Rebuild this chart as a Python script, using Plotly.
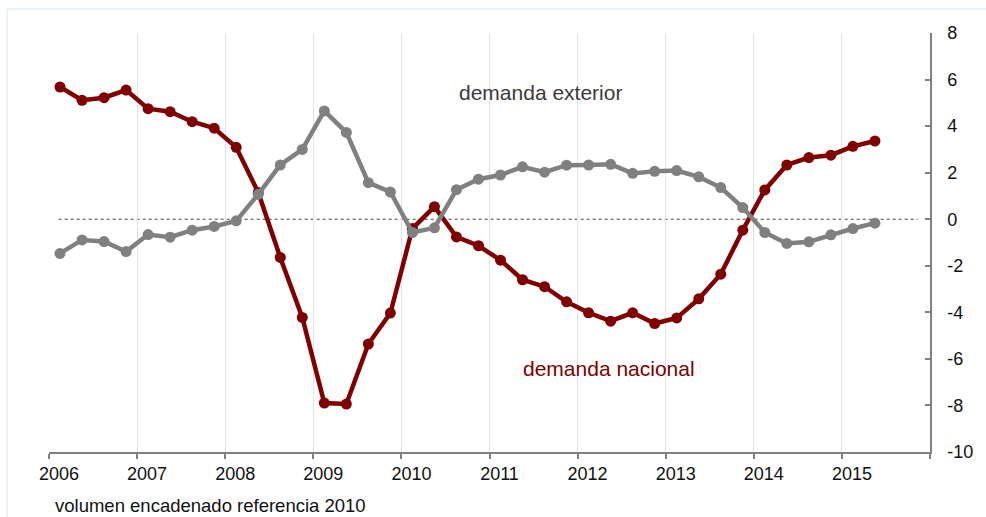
import plotly.graph_objects as go

# Quarters 2006T1 .. 2015T2
quarters = [f"{y}T{q}" for y in range(2006, 2016) for q in range(1, 5)][:38]

demanda_nacional = [5.68, 5.11, 5.22, 5.55, 4.75, 4.62, 4.19, 3.91,
                    3.09, 1.15, -1.64, -4.22, -7.90, -7.94, -5.36, -4.03,
                    -0.40, 0.54, -0.76, -1.14, -1.76, -2.60, -2.90, -3.55,
                    -4.02, -4.38, -4.02, -4.48, -4.24, -3.42, -2.36, -0.47,
                    1.26, 2.33, 2.65, 2.75, 3.13, 3.36]

demanda_exterior = [-1.47, -0.89, -0.96, -1.39, -0.66, -0.77, -0.47, -0.31,
                    -0.07, 1.07, 2.33, 3.00, 4.65, 3.73, 1.57, 1.17,
                    -0.57, -0.37, 1.27, 1.72, 1.90, 2.25, 2.02, 2.32,
                    2.33, 2.36, 1.97, 2.06, 2.09, 1.82, 1.36, 0.50,
                    -0.57, -1.04, -0.97, -0.67, -0.40, -0.17]

year_ticks = list(range(2006, 2017))
year_labels = [str(y) for y in range(2006, 2016)] + [""]
y_ticks = [8, 6, 4, 2, 0, -2, -4, -6, -8, -10]
y_labels = ["8", "6", "4", "2", "0", "-2", "-4", "-6", "-8", "-10"]


def q_pos(label):
    y, q = label.split("T")
    return int(y) + (int(q) - 0.5) / 4.0


x = [q_pos(q) for q in quarters]

RED = "#800000"
GREY = "#808080"
FONT = "Liberation Sans, Arial, sans-serif"

# plot-area geometry (pixels)
L, R, T, B = 49, 56, 33, 65
W, H = 986, 517
PW, PH = W - L - R, H - T - B


def px_x(px):
    return 2006 + (px - L) / PW * 10


def px_y(py):
    return 8 - (py - T) / PH * 18


fig = go.Figure()
fig.add_trace(go.Scatter(x=x, y=demanda_nacional, mode="lines+markers",
                         line=dict(color=RED, width=4.5),
                         marker=dict(color=RED, size=11),
                         name="demanda nacional", hoverinfo="x+y"))
fig.add_trace(go.Scatter(x=x, y=demanda_exterior, mode="lines+markers",
                         line=dict(color=GREY, width=4.5),
                         marker=dict(color=GREY, size=11),
                         name="demanda exterior", hoverinfo="x+y"))

# zero reference line (dotted)
fig.add_shape(type="line", xref="x", yref="y", x0=2006.11, x1=2015.86, y0=0, y1=0,
              line=dict(color="#444444", width=1, dash="dot"), layer="below")

# faint outer frame
fig.add_shape(type="rect", xref="paper", yref="paper",
              x0=(7 - L) / PW, x1=1.2, y0=(H - B - 9) / PH, y1=-0.5,
              line=dict(color="#e6eef8", width=1.5), layer="below")

fig.add_annotation(text="demanda exterior", x=px_x(540.5), y=px_y(92),
                   xref="x", yref="y", showarrow=False,
                   font=dict(family=FONT, size=21, color="#3a3a3a"))
fig.add_annotation(text="demanda nacional", x=px_x(609.2), y=px_y(368),
                   xref="x", yref="y", showarrow=False,
                   font=dict(family=FONT, size=21, color=RED))
fig.add_annotation(text="volumen encadenado referencia 2010",
                   x=(53 - L) / PW, y=(H - B - 505) / PH,
                   xref="paper", yref="paper", showarrow=False,
                   xanchor="left", yanchor="middle",
                   font=dict(family=FONT, size=18.5, color="#111111"))

fig.update_layout(
    width=W, height=H,
    margin=dict(l=L, r=R, t=T, b=B),
    paper_bgcolor="white", plot_bgcolor="white",
    showlegend=False,
    font=dict(family=FONT, size=18, color="#111111"),
    xaxis=dict(range=[2006, 2016], tickvals=year_ticks, ticktext=year_labels,
               showgrid=True, gridcolor="#d8e3f3", gridwidth=1,
               showline=True, linecolor=GREY, linewidth=1.5,
               ticks="outside", ticklen=5, tickcolor=GREY, tickwidth=1.5,
               ticklabelshift=10, zeroline=False,
               tickfont=dict(family=FONT, size=18, color="#111111")),
    yaxis=dict(range=[-10, 8], tickvals=y_ticks, ticktext=y_labels, side="right",
               showgrid=False, zeroline=False,
               showline=True, linecolor=GREY, linewidth=1.5,
               ticks="inside", ticklen=5, tickcolor=GREY, tickwidth=1.5,
               ticklabelstandoff=12,
               tickfont=dict(family=FONT, size=18, color="#111111")),
)

fig.write_html("out.html", config={"displayModeBar": False},
               post_script="document.body.style.margin='0';")
